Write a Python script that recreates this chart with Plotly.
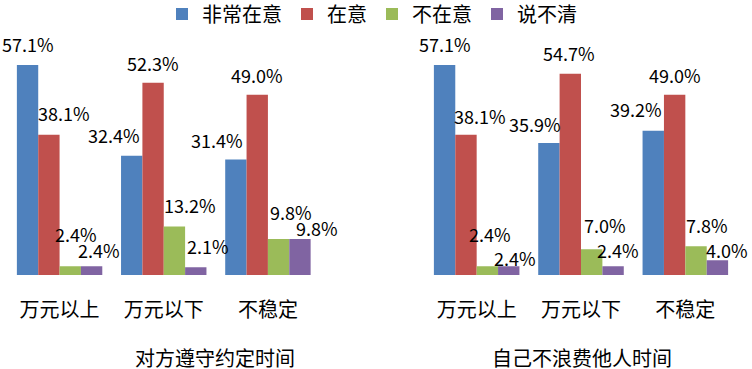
import plotly.graph_objects as go

categories = ["万元以上", "万元以下", "不稳定"]
series_names = ["非常在意", "在意", "不在意", "说不清"]
colors = ["#4F81BD", "#C0504D", "#9BBB59", "#8064A2"]

# Left panel: 对方遵守约定时间
left_title = "对方遵守约定时间"
left_very = [57.1, 32.4, 31.4]
left_care = [38.1, 52.3, 49.0]
left_notcare = [2.4, 13.2, 9.8]
left_unsure = [2.4, 2.1, 9.8]

# Right panel: 自己不浪费他人时间
right_title = "自己不浪费他人时间"
right_very = [57.1, 35.9, 39.2]
right_care = [38.1, 54.7, 49.0]
right_notcare = [2.4, 7.0, 7.8]
right_unsure = [2.4, 2.4, 4.0]

left_series = [left_very, left_care, left_notcare, left_unsure]
right_series = [right_very, right_care, right_notcare, right_unsure]

# label offsets (px) relative to bar centre / bar top, per series per category
left_dx = [[0, -18, -19], [15, 0, 0], [6, 16, 12], [7, 12, 17]]
left_dy = [[21, 21, 20], [22, 20, 20], [32, 21, 27], [16, 21, 11]]
right_dx = [[0, -14, -17], [14, -1, 0], [3, 13, 11], [6, 5, 10]]
right_dy = [[21, 19, 22], [19, 21, 20], [32, 24, 21], [8, 16, 10]]

W, H = 752, 369
FONT = "Noto Sans CJK SC"
bargap = 0.18
n = len(series_names)
bw = (1 - bargap) / n

fig = go.Figure()
annotations = []
for panel, (series, xa, ya, dxs, dys) in enumerate([
        (left_series, "x", "y", left_dx, left_dy),
        (right_series, "x2", "y2", right_dx, right_dy)]):
    for k, (name, vals) in enumerate(zip(series_names, series)):
        fig.add_trace(go.Bar(
            x=categories, y=vals, name=name, marker_color=colors[k],
            marker_line_width=0, xaxis=xa, yaxis=ya,
            showlegend=(panel == 0), legendgroup=name,
        ))
        off = -(1 - bargap) / 2 + bw * (k + 0.5)
        for i, v in enumerate(vals):
            annotations.append(dict(
                x=i + off, y=v, xref=xa, yref=ya, text=f"{v:.1f}%",
                showarrow=False, xanchor="center", yanchor="middle",
                xshift=dxs[k][i], yshift=dys[k][i],
                font=dict(family=FONT, size=18, color="#000000"),
            ))

annotations.append(dict(x=214.5 / W, y=1 - 357 / H, xref="paper", yref="paper",
                        text=left_title, showarrow=False, xanchor="center", yanchor="middle",
                        font=dict(family=FONT, size=20, color="#000000")))
annotations.append(dict(x=582 / W, y=1 - 357 / H, xref="paper", yref="paper",
                        text=right_title, showarrow=False, xanchor="center", yanchor="middle",
                        font=dict(family=FONT, size=20, color="#000000")))

ydom = [1 - 275 / H, 1 - (275 - 60 * 3.678) / H]
axis_common = dict(showgrid=False, zeroline=False, showline=False, ticks="",
                   automargin=False, range=[-0.5, 2.5], autorange=False,
                   tickfont=dict(family=FONT, size=20, color="#000000"),
                   ticklabelstandoff=21)
yaxis_common = dict(range=[0, 60], autorange=False, visible=False, showgrid=False,
                    zeroline=False, automargin=False)

fig.update_layout(
    template="none",
    width=W, height=H,
    margin=dict(l=0, r=0, t=0, b=0, autoexpand=False),
    paper_bgcolor="white", plot_bgcolor="white",
    barmode="group", bargap=bargap, bargroupgap=0,
    xaxis=dict(domain=[7.5 / W, 320 / W], anchor="y", **axis_common),
    xaxis2=dict(domain=[424.5 / W, 737.5 / W], anchor="y2", **axis_common),
    yaxis=dict(domain=ydom, anchor="x", **yaxis_common),
    yaxis2=dict(domain=ydom, anchor="x2", **yaxis_common),
    legend=dict(orientation="h", x=372 / W, xanchor="center", y=1 - 14 / H, yanchor="middle",
                font=dict(family=FONT, size=20, color="#000000"),
                bgcolor="rgba(0,0,0,0)", itemwidth=30),
    annotations=annotations,
    showlegend=True,
)

fig.write_html("out.html", config={"displayModeBar": False},
               post_script="document.body.style.margin='0';")
